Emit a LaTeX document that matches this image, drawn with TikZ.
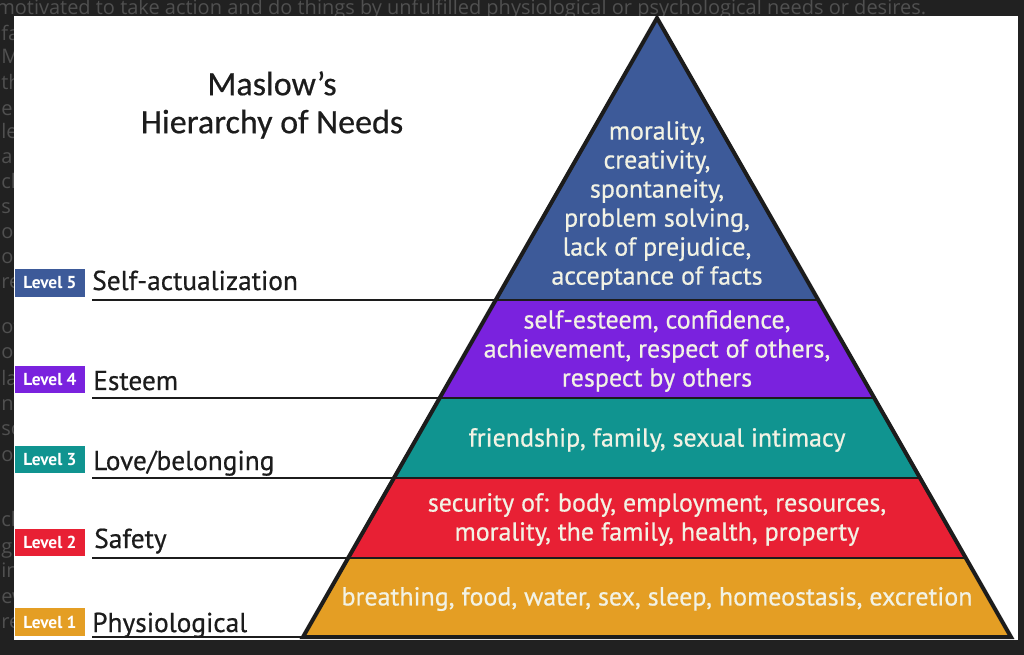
\documentclass[tikz,border=0pt]{standalone}
\usepackage{fontspec}
\setmainfont{PT Sans}
\newfontfamily\medfont{PT Sans}[FakeBold=0.6]
\newfontfamily\titlefont{Carlito}[FakeBold=0.5]
\newfontfamily\pagefont{Open Sans}
\usetikzlibrary{positioning, calc}
\definecolor{framegray}{RGB}{33,33,33}
\definecolor{pagetext}{RGB}{80,80,80}
\definecolor{selfblue}{RGB}{61,90,153}
\definecolor{esteempurple}{RGB}{122,34,222}
\definecolor{loveteal}{RGB}{16,148,144}
\definecolor{safetyred}{RGB}{232,32,52}
\definecolor{physgold}{RGB}{228,158,36}
\definecolor{bandtext}{RGB}{242,242,228}
\definecolor{inkblack}{RGB}{28,28,28}
\tikzset{
  pagefrag/.style={anchor=base west, inner sep=0pt, text=pagetext,
    font=\pagefont\fontsize{15}{18}\selectfont},
  badge/.style={rectangle, minimum width=52.5pt, minimum height=20.5pt,
    inner sep=0pt, text=white, font=\bfseries\fontsize{13}{14}\selectfont},
  levellabel/.style={anchor=base west, inner sep=0pt, text=inkblack,
    font=\medfont\fontsize{20.5}{22}\selectfont},
  bandlabel/.style={align=center, text=bandtext, inner sep=0pt,
    font=\medfont\fontsize{19.5}{21.75}\selectfont},
  band/.style={draw=inkblack, line width=1pt},
  underline/.style={draw=inkblack, line width=1.6pt},
  outline/.style={draw=inkblack, line width=3pt, line join=miter},
}
\begin{document}
\begin{tikzpicture}[x=0.75pt, y=-0.75pt]
  \useasboundingbox (0,0) rectangle (1024,655);
  \fill[framegray] (0,0) rectangle (1024,655);

  % page text behind the picture
  \node[pagefrag] (pagetop) at (-4,15) {motivated to take action and do things by unfulfilled physiological or psychological needs or desires.};
  \begin{scope}
    \clip (0,20) rectangle (14,655);
    \foreach \y/\frag in {41/fa, 64/M, 90/th, 116/e c, 139/les, 164/a, 189/chy,
        214/s c, 239/on, 264/ou, 289/re, 334/of, 359/op, 386/la, 411/ne,
        436/so, 461/o w, 526/ch, 553/g, 577/in, 603/ew, 628/re}
      \node[pagefrag] at (1,\y) {\frag};
  \end{scope}

  \fill[white] (14,16) rectangle (1018,640);

  % title
  \node[align=center, inner sep=0pt, text=inkblack,
    font=\titlefont\fontsize{25.5}{28.5}\selectfont] (title) at (272,105)
    {Maslow’s\\Hierarchy of Needs};

  % pyramid corners and band edges
  \coordinate (apex) at (657,18);
  \coordinate (bl) at (303,637);
  \coordinate (br) at (1011,637);
  \coordinate (l5) at ($(apex)!0.4556!(bl)$);
  \coordinate (r5) at ($(apex)!0.4556!(br)$);
  \coordinate (l4) at ($(apex)!0.6139!(bl)$);
  \coordinate (r4) at ($(apex)!0.6139!(br)$);
  \coordinate (l3) at ($(apex)!0.7431!(bl)$);
  \coordinate (r3) at ($(apex)!0.7431!(br)$);
  \coordinate (l2) at ($(apex)!0.8724!(bl)$);
  \coordinate (r2) at ($(apex)!0.8724!(br)$);

  \fill[selfblue]     (apex) -- (r5) -- (l5) -- cycle;
  \fill[esteempurple] (l5) -- (r5) -- (r4) -- (l4) -- cycle;
  \fill[loveteal]     (l4) -- (r4) -- (r3) -- (l3) -- cycle;
  \fill[safetyred]    (l3) -- (r3) -- (r2) -- (l2) -- cycle;
  \fill[physgold]     (l2) -- (r2) -- (br) -- (bl) -- cycle;
  \draw[band] (l5) -- (r5);
  \draw[band] (l4) -- (r4);
  \draw[band] (l3) -- (r3);
  \draw[band] (l2) -- (r2);
  \draw[outline] (apex) -- (br) -- (bl) -- cycle;

  \node[bandlabel] (need5) at (657,205.5) {morality,\\creativity,\\spontaneity,\\problem solving,\\lack of prejudice,\\acceptance of facts};
  \node[bandlabel] (need4) at (657,351) {self-esteem, confidence,\\achievement, respect of others,\\respect by others};
  \node[bandlabel] (need3) at (657,440) {friendship, family, sexual intimacy};
  \node[bandlabel] (need2) at (657,519.5) {security of: body, employment, resources,\\morality, the family, health, property};
  \node[bandlabel] (need1) at (657,599) {breathing, food, water, sex, sleep, homeostasis, excretion};

  % level badges and names
  \node[badge, fill=selfblue]     (lvl5) at (50,283)   {Level 5};
  \node[badge, fill=esteempurple] (lvl4) at (50,379.5) {Level 4};
  \node[badge, fill=loveteal]     (lvl3) at (50,459.5) {Level 3};
  \node[badge, fill=safetyred]    (lvl2) at (50,542.5) {Level 2};
  \node[badge, fill=physgold]     (lvl1) at (50,622)   {Level 1};

  \node[levellabel] (name5) at (92,290) {Self-actualization};
  \node[levellabel] (name4) at (93,390) {Esteem};
  \node[levellabel] (name3) at (93,470) {Love/belonging};
  \node[levellabel] (name2) at (94,548) {Safety};
  \node[levellabel] (name1) at (92,632) {Physiological};

  \draw[underline] (name5.west |- l5) -- (l5);
  \draw[underline] (name5.west |- l4) -- (l4);
  \draw[underline] (name5.west |- l3) -- (l3);
  \draw[underline] (name5.west |- l2) -- (l2);
  \draw[underline] (name5.west |- bl) -- (bl);
\end{tikzpicture}
\end{document}
